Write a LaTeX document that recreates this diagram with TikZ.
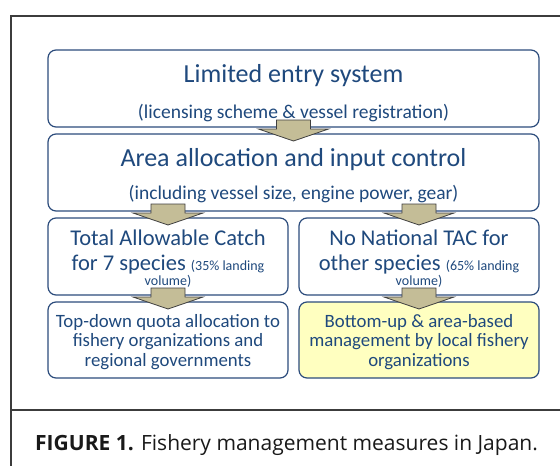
\documentclass[tikz,border=0pt]{standalone}
\usepackage{fontspec}
\setmainfont{Carlito}
\newfontfamily\capfont{Open Sans}
\usepackage{tikz}
\usepackage{xcolor}
\usetikzlibrary{positioning, calc}

\definecolor{boxline}{RGB}{44,76,124}
\definecolor{boxtext}{RGB}{31,73,125}
\definecolor{tanfill}{RGB}{196,189,151}
\definecolor{tanline}{RGB}{64,64,64}
\definecolor{paleyellow}{RGB}{255,255,192}
\definecolor{framegray}{RGB}{60,60,60}

% block arrow from the bottom of #1 into the top of #2
\newcommand{\flowarrow}[2]{%
  \draw[flow] ($(#1.south -| #2.north)+(-17,-7)$) -- ($(#1.south -| #2.north)+(-17,2)$)
    -- ($(#1.south -| #2.north)+(-35,2)$) -- ($(#2.north)+(0,7)$)
    -- ($(#1.south -| #2.north)+(35,2)$) -- ($(#1.south -| #2.north)+(17,2)$)
    -- ($(#1.south -| #2.north)+(17,-7)$) -- cycle;}

\begin{document}
\begin{tikzpicture}[x=1pt, y=-1pt,
    box/.style={draw=boxline, line width=1.2pt, rounded corners=8pt, fill=white,
        inner sep=0pt, outer sep=0pt, minimum height=77pt},
    widebox/.style={box, minimum width=491pt},
    halfbox/.style={box, minimum width=240pt},
    flow/.style={fill=tanfill, draw=tanline, line width=0.8pt, line join=miter},
    txt/.style={text=boxtext, anchor=base, inner sep=0pt},
    big/.style={txt, font=\fontsize{26}{30}\selectfont},
    mid/.style={txt, font=\fontsize{22.5}{26}\selectfont},
    sub/.style={txt, font=\fontsize{19.5}{23}\selectfont},
    small/.style={txt, font=\fontsize{14}{16}\selectfont},
    body/.style={txt, align=center, font=\fontsize{18.8}{19.5}\selectfont}]
    \useasboundingbox (0,0) rectangle (560,466);
    % Frame and caption rule
    \draw[framegray, line width=1.5pt] (570,16) -- (11,16) -- (11,476);
    \draw[framegray, line width=1.2pt] (11,410) -- (570,410);
    % Boxes
    \node[widebox] (lim) at (293.5,88.5) {};
    \node[widebox] (area) at (293.5,172.5) {};
    \node[halfbox] (tac) at (168,256.5) {};
    \node[halfbox] (notac) at (419,256.5) {};
    \node[halfbox, minimum height=76pt] (quota) at (168,340) {};
    \node[halfbox, minimum height=76pt, fill=paleyellow] (local) at (419,340) {};
    % Box texts
    \node[big] (limA) at ([yshift=-32pt]lim.north) {Limited entry system};
    \node[sub] (limB) at ([yshift=-68pt]lim.north) {(licensing scheme \& vessel registration)};
    \node[big] (areaA) at ([yshift=-32pt]area.north) {Area allocation and input control};
    \node[sub] (areaB) at ([yshift=-65pt]area.north) {(including vessel size, engine power, gear)};
    \node[mid] (tacA) at ([yshift=-27pt]tac.north) {Total Allowable Catch};
    \node[mid] (tacB) at ([yshift=-52pt]tac.north) {for 7 species {\fontsize{14}{16}\selectfont(35\% landing}};
    \node[small] (tacC) at ([yshift=-67pt]tac.north) {volume)};
    \node[mid] (notacA) at ([yshift=-27pt]notac.north) {No National TAC for};
    \node[mid] (notacB) at ([yshift=-52pt]notac.north) {other species {\fontsize{14}{16}\selectfont(65\% landing}};
    \node[small] (notacC) at ([yshift=-67pt]notac.north) {volume)};
    \node[body] (quotaT) at ([yshift=-64pt]quota.north)
        {Top-down quota allocation to\\fishery organizations and\\regional governments};
    \node[body] (localT) at ([yshift=-64pt]local.north)
        {Bottom-up \& area-based\\management by local fishery\\organizations};
    % Arrows
    \flowarrow{lim}{area}
    \flowarrow{area}{tac}
    \flowarrow{area}{notac}
    \flowarrow{tac}{quota}
    \flowarrow{notac}{local}
    % Caption
    \node[anchor=base west, inner sep=0pt, text=black!90, font=\capfont\fontsize{21}{24}\selectfont]
        (caption) at (35,450) {\textbf{FIGURE 1.} Fishery management measures in Japan.};
\end{tikzpicture}
\end{document}
